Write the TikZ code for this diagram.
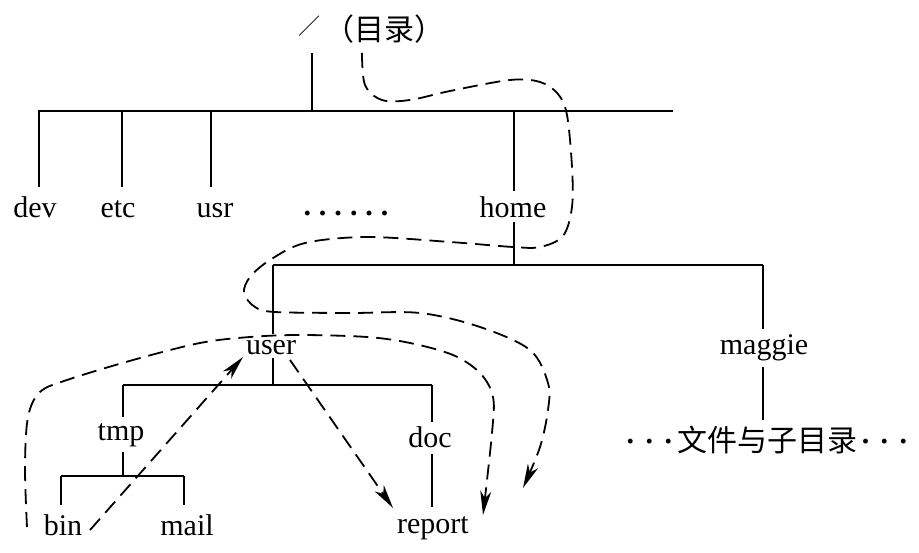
\documentclass[tikz,border=0pt]{standalone}
\usepackage{fontspec}
\setmainfont{Liberation Serif}
\newfontfamily\cjk{Noto Sans CJK SC}
\usetikzlibrary{arrows.meta}
\newcommand{\pdot}{\textbf{\textperiodcentered}}
\newcommand{\bdot}{\textbf{.}}
\begin{document}
\begin{tikzpicture}[x=1pt,y=-1pt,
  lbl/.style={font=\fontsize{30}{36}\selectfont, inner sep=0pt, anchor=base},
  tree/.style={line width=1.8pt},
  dpath/.style={line width=1.8pt, dash pattern=on 15pt off 8pt},
  darr/.style={dpath, -{Stealth[length=24pt,width=11pt,inset=7pt]}}]
\useasboundingbox (0,0) rectangle (919,553);
% labels
\node[lbl, anchor=center, font=\cjk\fontsize{22}{26}\selectfont] (slash) at (309,26) {／};
\node[lbl, anchor=base west, font=\cjk\fontsize{30}{36}\selectfont] (root) at (324,41) {（目录）};
\node[lbl] (dev) at (35,218) {dev};
\node[lbl] (etc) at (118,218) {etc};
\node[lbl] (usr) at (215,218) {usr};
\node[lbl] (dots) at (346,216) {\bdot\hspace{8pt}\bdot\hspace{8pt}\bdot\hspace{8pt}\bdot\hspace{8pt}\bdot\hspace{8pt}\bdot};
\node[lbl] (home) at (513,218) {home};
\node[lbl] (user) at (271,355) {user};
\node[lbl] (maggie) at (764,355) {maggie};
\node[lbl] (tmp) at (121,440) {tmp};
\node[lbl] (doc) at (430,447) {doc};
\node[lbl] (bin) at (63,535) {bin};
\node[lbl] (mail) at (187,535) {mail};
\node[lbl] (report) at (433,533) {report};
\node[lbl] (files) at (767,451) {\pdot\hspace{9pt}\pdot\hspace{9pt}\pdot\hspace{3.5pt}{\cjk 文件与子目录}\hspace{3.5pt}\pdot\hspace{9pt}\pdot\hspace{9pt}\pdot};
% tree junctions
\coordinate (r0) at (312,53);
\coordinate (r1) at (312,111);
\coordinate (b1l) at (38,111);
\coordinate (b1r) at (673,111);
\coordinate (jdev) at (39,111);   \coordinate (edev) at (39,187);
\coordinate (jetc) at (122,111);  \coordinate (eetc) at (122,187);
\coordinate (jusr) at (211,111);  \coordinate (eusr) at (211,187);
\coordinate (jhome) at (514,111); \coordinate (ehome) at (514,191);
\coordinate (shome) at (514,222); \coordinate (b2m) at (514,265);
\coordinate (b2l) at (273,265);   \coordinate (b2r) at (763,265);
\coordinate (euser) at (273,334); \coordinate (suser) at (273,358);
\coordinate (b3m) at (273,385);
\coordinate (emag) at (763,329);  \coordinate (smag) at (763,367);
\coordinate (efiles) at (763,420);
\coordinate (b3l) at (123,385);   \coordinate (b3r) at (432,385);
\coordinate (etmp) at (123,417);  \coordinate (stmp) at (123,452);
\coordinate (b4m) at (123,476);
\coordinate (edoc) at (432,422);  \coordinate (sdoc) at (432,454);
\coordinate (erep) at (432,507);
\coordinate (b4l) at (61,476);    \coordinate (b4r) at (184,476);
\coordinate (ebin) at (61,505);   \coordinate (email) at (184,505);
% tree lines
\draw[tree] (r0) -- (r1);
\draw[tree] (b1l) -- (b1r);
\draw[tree] (jdev) -- (edev);
\draw[tree] (jetc) -- (eetc);
\draw[tree] (jusr) -- (eusr);
\draw[tree] (jhome) -- (ehome);
\draw[tree] (shome) -- (b2m);
\draw[tree] (b2l) -- (b2r);
\draw[tree] (b2l) -- (euser);
\draw[tree] (suser) -- (b3m);
\draw[tree] (b2r) -- (emag);
\draw[tree] (smag) -- (efiles);
\draw[tree] (b3l) -- (b3r);
\draw[tree] (b3l) -- (etmp);
\draw[tree] (stmp) -- (b4m);
\draw[tree] (b3r) -- (edoc);
\draw[tree] (sdoc) -- (erep);
\draw[tree] (b4l) -- (b4r);
\draw[tree] (b4l) -- (ebin);
\draw[tree] (b4r) -- (email);
% dashed paths
\coordinate (pa0) at (362,53);
\coordinate (pa1) at (523,488);
\draw[darr] plot[smooth, tension=0.55] coordinates {(pa0) (365,85) (382,100) (410,100) (450,91) (510,80) (540,82) (558,94) (567,115) (572,167) (572,207) (563,236) (540,247) (513,247) (450,242) (367,237) (305,243) (270,260) (250,277) (244,293) (255,307) (275,312) (350,313) (420,313) (480,327) (530,350) (548,383) (548,410) (540,447) (pa1)};
\coordinate (pb0) at (27,527);
\coordinate (pb1) at (483,515);
\draw[darr] plot[smooth, tension=0.55] coordinates {(pb0) (25,467) (28,417) (40,392) (67,380) (133,360) (200,343) (250,337) (300,335) (367,337) (410,343) (453,355) (480,373) (493,397) (492,433) (pb1)};
\coordinate (pc0) at (90,530);
\coordinate (pc1) at (243,357);
\draw[darr] (pc0) -- (pc1);
\coordinate (pd0) at (290,360);
\coordinate (pd1) at (393,508);
\draw[darr] (pd0) -- (pd1);
\end{tikzpicture}
\end{document}
